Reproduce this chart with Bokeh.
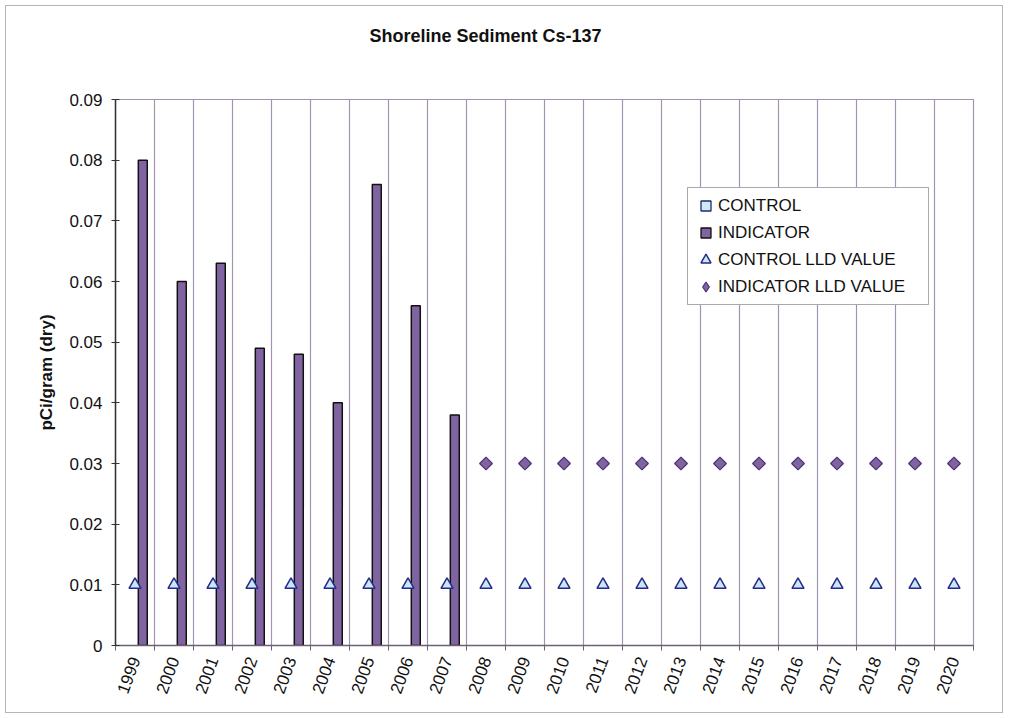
from bokeh.plotting import figure
from bokeh.models import Range1d, FixedTicker, ColumnDataSource, Legend, LegendItem
from bokeh.embed import file_html
from bokeh.resources import INLINE

# ---------------- data ----------------
title_text = "Shoreline Sediment Cs-137"
years = ["1999", "2000", "2001", "2002", "2003", "2004", "2005", "2006", "2007", "2008", "2009",
         "2010", "2011", "2012", "2013", "2014", "2015", "2016", "2017", "2018", "2019", "2020"]
control = [None, None, None, None, None, None, None, None, None, None, None,
           None, None, None, None, None, None, None, None, None, None, None]
indicator = [0.080, 0.060, 0.063, 0.049, 0.048, 0.040, 0.076, 0.056, 0.038, None, None,
             None, None, None, None, None, None, None, None, None, None, None]
control_lld = [0.01, 0.01, 0.01, 0.01, 0.01, 0.01, 0.01, 0.01, 0.01, 0.01, 0.01,
               0.01, 0.01, 0.01, 0.01, 0.01, 0.01, 0.01, 0.01, 0.01, 0.01, 0.01]
indicator_lld = [None, None, None, None, None, None, None, None, None, 0.03, 0.03,
                 0.03, 0.03, 0.03, 0.03, 0.03, 0.03, 0.03, 0.03, 0.03, 0.03, 0.03]
y_ticks = [0, 0.01, 0.02, 0.03, 0.04, 0.05, 0.06, 0.07, 0.08, 0.09]
y_tick_labels = ["0", "0.01", "0.02", "0.03", "0.04", "0.05", "0.06", "0.07", "0.08", "0.09"]

FONT = "Liberation Sans"
GRID = "#a294b0"
BAR_OFF = 0.2
BAR_W = 0.23

CTRL_FILL, CTRL_LINE = "#cfe9f5", "#1f2a6e"
IND_FILL, IND_LINE = "#8064a2", "#111111"
TRI_FILL, TRI_LINE = "#c9e7f6", "#262a8a"
DIA_FILL, DIA_LINE = "#8064a2", "#4d3275"


def series(vals, off=0.0):
    xs, ys = [], []
    for i, v in enumerate(vals):
        xs.append(i + 0.5 + off)
        ys.append(float("nan") if v is None else v)
    return ColumnDataSource(dict(x=xs, y=ys))


n = len(years)
p = figure(width=998, height=708, output_backend="svg", toolbar_location=None,
           x_range=Range1d(0, n), y_range=Range1d(0, 0.09),
           min_border_left=109, min_border_right=31, min_border_top=93, min_border_bottom=69)
p.styles = {"border": "1px solid #b5b5b5", "margin-left": "5px", "margin-top": "5px"}

# title: two blank lines below it lift it well above the plot frame, as in the reference
p.title.text = title_text + "\n \n "
p.title.text_font = FONT
p.title.text_font_size = "18px"
p.title.text_font_style = "bold"
p.title.align = "left"
p.title.offset = 254
p.title.standoff = 28
p.title.text_color = "#111111"

# bars
r_ctrl = p.vbar(x="x", top="y", bottom=0, width=BAR_W, source=series(control, -BAR_OFF),
                fill_color=CTRL_FILL, line_color=CTRL_LINE, line_width=1.2)
r_ind = p.vbar(x="x", top="y", bottom=0, width=BAR_W, source=series(indicator, BAR_OFF),
               fill_color=IND_FILL, line_color=IND_LINE, line_width=1.5)
# markers
r_clld = p.scatter(x="x", y="y", source=series(control_lld), marker="triangle", size=12,
                   fill_color=TRI_FILL, line_color=TRI_LINE, line_width=1.5)
r_illd = p.scatter(x="x", y="y", source=series(indicator_lld), marker="square", angle=0.785398,
                   size=9, fill_color=DIA_FILL, line_color=DIA_LINE, line_width=1.2)

# legend proxies (same styles, marker swatches like the reference legend)
nan_src = ColumnDataSource(dict(x=[float("nan")], y=[float("nan")]))
l_ctrl = p.scatter(x="x", y="y", source=nan_src, marker="square", size=9,
                   fill_color=CTRL_FILL, line_color=CTRL_LINE, line_width=1.3)
l_ind = p.scatter(x="x", y="y", source=nan_src, marker="square", size=9,
                  fill_color=IND_FILL, line_color=IND_LINE, line_width=1.3)
l_clld = p.scatter(x="x", y="y", source=nan_src, marker="triangle", size=10,
                   fill_color=TRI_FILL, line_color=TRI_LINE, line_width=1.5)
l_illd = p.scatter(x="x", y="y", source=nan_src, marker="diamond", size=10,
                   fill_color=DIA_FILL, line_color=DIA_LINE, line_width=1.2)

# axes
centers = [i + 0.5 for i in range(n)]
bounds = [i for i in range(n + 1)]
p.xaxis.ticker = FixedTicker(ticks=centers, minor_ticks=bounds)
p.xaxis.major_label_overrides = {c: y for c, y in zip(centers, years)}
p.xaxis.major_tick_line_color = None
p.xaxis.minor_tick_in = 0
p.xaxis.minor_tick_out = 5
p.xaxis.minor_tick_line_color = "#6b6078"
p.xaxis.axis_line_color = "#6b6078"
p.xaxis.axis_line_width = 1.5
p.xaxis.major_label_orientation = 1.22
p.xaxis.major_label_text_font = FONT
p.xaxis.major_label_text_font_size = "17px"
p.xaxis.major_label_text_color = "#111111"
p.xaxis.major_label_standoff = 6

p.yaxis.ticker = FixedTicker(ticks=y_ticks, minor_ticks=[])
p.yaxis.major_label_overrides = {t: l for t, l in zip(y_ticks, y_tick_labels)}
p.yaxis.major_tick_in = 4
p.yaxis.major_tick_out = 4
p.yaxis.major_tick_line_color = "#333333"
p.yaxis.axis_line_color = "#333333"
p.yaxis.axis_line_width = 1.5
p.yaxis.major_label_text_font = FONT
p.yaxis.major_label_text_font_size = "17px"
p.yaxis.major_label_text_color = "#111111"
p.yaxis.major_label_standoff = 9
p.yaxis.axis_label = "pCi/gram (dry)"
p.yaxis.axis_label_text_font = FONT
p.yaxis.axis_label_text_font_size = "17px"
p.yaxis.axis_label_text_font_style = "bold"
p.yaxis.axis_label_text_color = "#111111"
p.yaxis.axis_label_standoff = 10

p.xgrid.grid_line_color = None
p.xgrid.minor_grid_line_color = GRID
p.xgrid.minor_grid_line_width = 1.2
p.ygrid.grid_line_color = None
p.outline_line_color = GRID
p.outline_line_width = 1.2

legend = Legend(items=[
    LegendItem(label="CONTROL", renderers=[l_ctrl]),
    LegendItem(label="INDICATOR", renderers=[l_ind]),
    LegendItem(label="CONTROL LLD VALUE", renderers=[l_clld]),
    LegendItem(label="INDICATOR LLD VALUE", renderers=[l_illd]),
], location=(572, 340))
legend.label_text_font = FONT
legend.label_text_font_size = "17px"
legend.label_text_color = "#111111"
legend.glyph_width = 25
legend.glyph_height = 25
legend.label_standoff = -1
legend.label_width = 205
legend.padding = 5
legend.spacing = 2
legend.border_line_color = "#555555"
legend.border_line_width = 1
legend.background_fill_color = "white"
legend.background_fill_alpha = 1
legend.margin = 0
p.add_layout(legend, "center")

open("out.html", "w").write(file_html(p, INLINE))
